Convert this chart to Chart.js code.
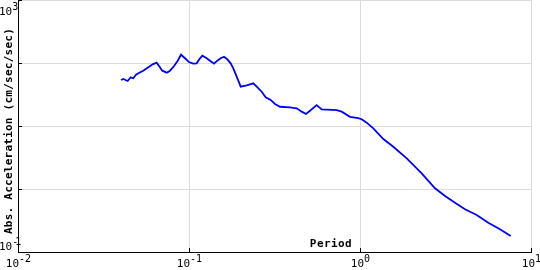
<!DOCTYPE html>
<html>
<head>
<meta charset="utf-8">
<script src="https://cdn.jsdelivr.net/npm/chart.js@4.4.0/dist/chart.umd.min.js"></script>
<style>
html,body{margin:0;padding:0;background:#fff;}
#wrap{width:540px;height:270px;position:relative;}
</style>
</head>
<body>
<div id="wrap"><canvas id="c" width="540" height="270"></canvas></div>
<script>
// Period (sec)
const periods = [0.0400,0.0413,0.0438,0.0456,0.0472,0.0490,0.0512,0.0540,0.0578,0.0613,
  0.0647,0.0668,0.0698,0.0741,0.0774,0.0818,0.0859,0.0898,0.0948,0.1004,
  0.1060,0.1109,0.1149,0.1196,0.1257,0.1327,0.1400,0.1464,0.1532,0.1602,
  0.1662,0.1753,0.1816,0.1901,0.2006,0.2175,0.2377,0.2488,0.2661,0.2808,
  0.3004,0.3184,0.3405,0.3897,0.4264,0.4561,0.4832,0.5101,0.5580,0.5970,
  0.7307,0.7816,0.874,0.977,1.023,1.094,1.196,1.369,1.566,1.876,
  2.295,2.746,3.142,3.594,4.112,4.814,5.627,6.588,7.607];
// Absolute acceleration (cm/sec/sec)
const accel = [53.7,55.7,51.8,59.3,57.2,65.2,70.2,75.5,85.4,95.3,
  101.1,89.6,75.5,70.2,75.5,89.6,108.8,135.4,118.8,102.6,
  97.5,98.9,114.5,130.6,121.4,108.8,97.5,108.8,118.8,125.9,
  117.0,98.9,82.4,60.6,42.1,44.3,47.6,42.1,35.0,28.6,
  25.9,22.4,20.2,19.8,19.1,16.9,15.5,17.5,21.5,18.4,
  17.9,16.9,14.0,13.3,12.8,11.3,9.19,6.22,4.69,3.07,
  1.775,1.026,0.774,0.606,0.476,0.387,0.292,0.229,0.179];
const xDecades = [0.01,0.1,1,10];
const xExps = ['-2','-1','0','1'];
const yDecades = [0.1,1,10,100,1000];
const yTopExp = '3';
const yBottomExp = '-1';
const xTitle = 'Period';
const yTitle = 'Abs. Acceleration (cm/sec/sec)';

const pts = periods.map((p,i)=>({x:p,y:accel[i]}));

function drawPow(ctx, x, baseY, exp, align, expSpacing){
  ctx.font = '11px "DejaVu Sans Mono"';
  ctx.letterSpacing = '0px';
  const w1 = ctx.measureText('10').width;
  ctx.font = '10px "DejaVu Sans Mono"';
  ctx.letterSpacing = (expSpacing||0)+'px';
  const w2 = ctx.measureText(exp).width;
  const tw = w1 + w2;
  let left = align==='center' ? x - tw/2 : (align==='left' ? x : x - tw);
  ctx.textAlign = 'left';
  ctx.textBaseline = 'alphabetic';
  ctx.font = '11px "DejaVu Sans Mono"';
  ctx.letterSpacing = '0px';
  ctx.fillText('10', left, baseY);
  ctx.font = '10px "DejaVu Sans Mono"';
  ctx.letterSpacing = (expSpacing||0)+'px';
  ctx.fillText(exp, left + w1, baseY - 5);
  ctx.letterSpacing = '0px';
}

const deco = {
  id:'deco',
  afterDraw(chart){
    const ctx = chart.ctx, xs = chart.scales.x, ys = chart.scales.y, a = chart.chartArea;
    ctx.save();
    // small inward ticks
    ctx.strokeStyle = '#000'; ctx.lineWidth = 1;
    ctx.beginPath();
    xDecades.forEach(v=>{ const px = Math.round(xs.getPixelForValue(v))+0.5; ctx.moveTo(px, a.bottom); ctx.lineTo(px, a.bottom-4); });
    yDecades.forEach(v=>{ const py = Math.round(ys.getPixelForValue(v))+0.5; ctx.moveTo(a.left, py); ctx.lineTo(a.left+4, py); });
    ctx.stroke();
    ctx.fillStyle = '#000';
    // x tick labels
    xDecades.forEach((v,i)=>{ drawPow(ctx, xs.getPixelForValue(v)+0.5, a.bottom+15, xExps[i], 'center', 0); });
    // y tick labels (only ends)
    drawPow(ctx, -1, ys.getPixelForValue(1000)+15, yTopExp, 'left', 0);
    drawPow(ctx, -1, ys.getPixelForValue(0.1)-2, yBottomExp, 'left', -3);
    // titles
    ctx.font = 'bold 11px "DejaVu Sans Mono"';
    ctx.letterSpacing = '0.4px';
    ctx.textAlign = 'right'; ctx.textBaseline = 'alphabetic';
    ctx.fillText(xTitle, xs.getPixelForValue(1) - 8, a.bottom - 5.5);
    ctx.letterSpacing = '0.25px';
    ctx.translate(11.5, 131);
    ctx.rotate(-Math.PI/2);
    ctx.textAlign = 'center';
    ctx.fillText(yTitle, 0, 0);
    ctx.restore();
  }
};

new Chart(document.getElementById('c'), {
  type:'scatter',
  data:{datasets:[{data:pts, showLine:true, borderColor:'#0000ff', borderWidth:1.8, pointRadius:0, tension:0, fill:false}]},
  options:{
    responsive:false, animation:false, devicePixelRatio:1,
    layout:{padding:{left:18,right:9,top:0,bottom:18}},
    plugins:{legend:{display:false}, tooltip:{enabled:false}},
    scales:{
      x:{type:'logarithmic', min:0.01, max:10,
        afterBuildTicks:(s)=>{ s.ticks = xDecades.map(v=>({value:v})); },
        ticks:{display:false},
        grid:{color:'#dcdcdc', drawTicks:false, lineWidth:1},
        border:{display:true, color:'#000', width:1}},
      y:{type:'logarithmic', min:0.1, max:1000,
        afterBuildTicks:(s)=>{ s.ticks = yDecades.map(v=>({value:v})); },
        ticks:{display:false},
        grid:{color:'#dcdcdc', drawTicks:false, lineWidth:1},
        border:{display:true, color:'#000', width:1}}
    }
  },
  plugins:[deco]
});
</script>
</body>
</html>
